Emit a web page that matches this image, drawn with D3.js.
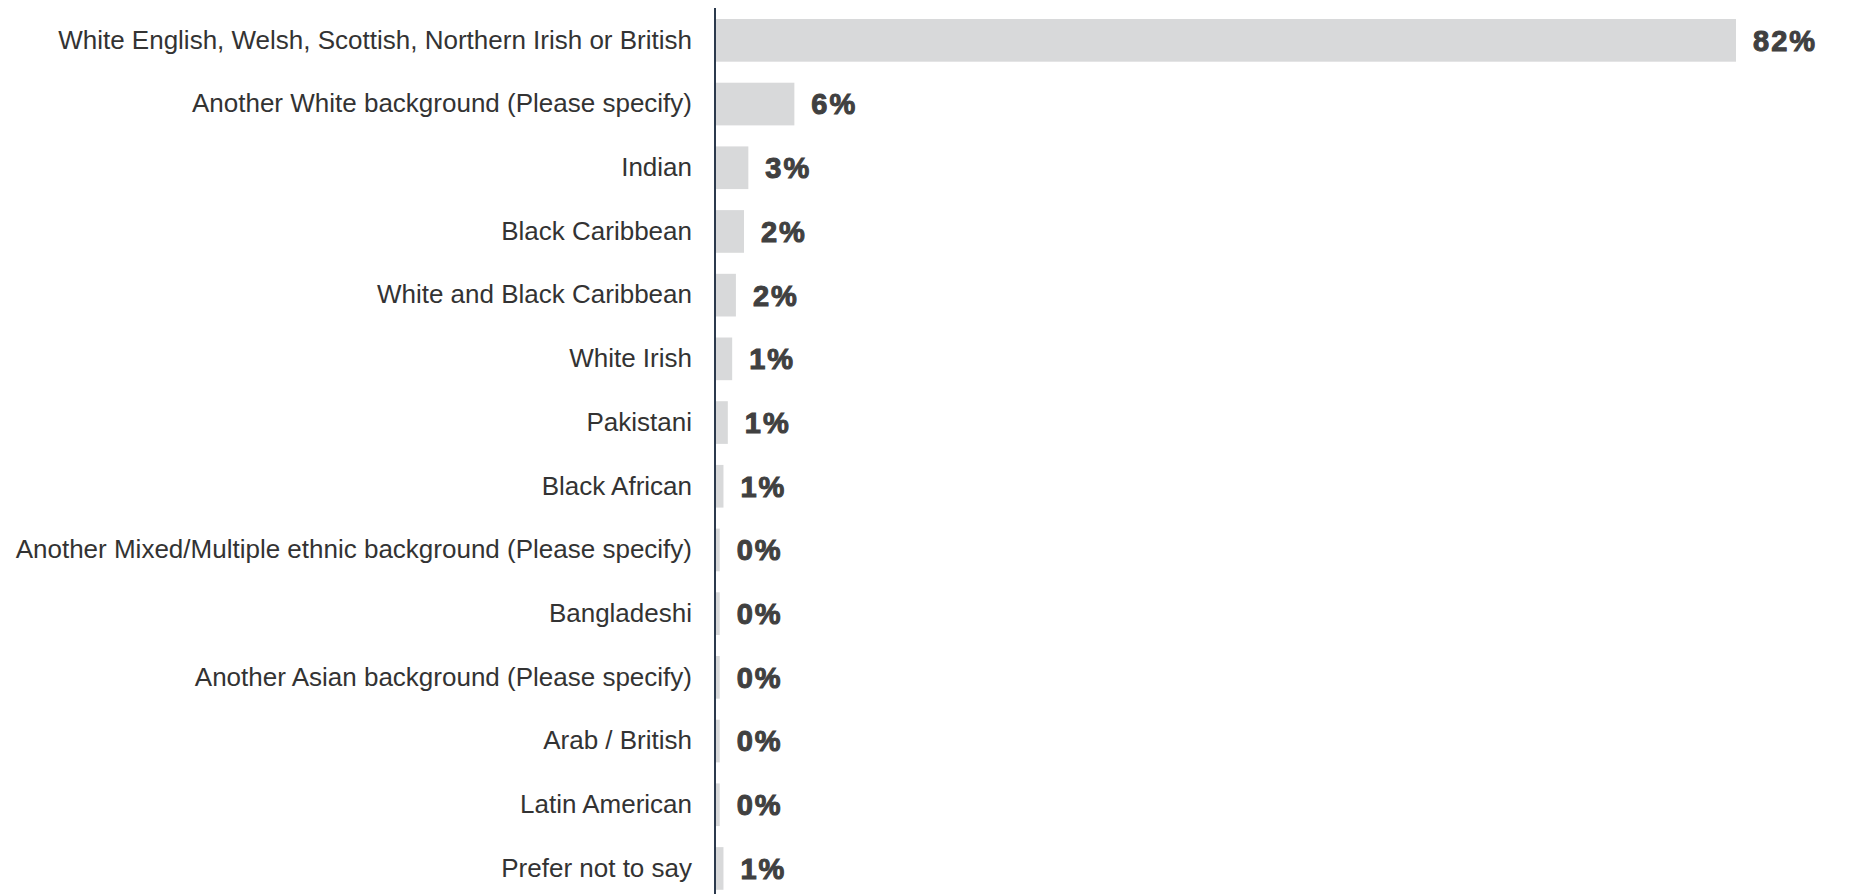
<!DOCTYPE html>
<html>
<head>
<meta charset="utf-8">
<script src="https://cdn.jsdelivr.net/npm/d3@7"></script>
<style>
  body { margin: 0; background: #fff; }
  .catLabel { font-family: "Liberation Sans", Arial, sans-serif; fill: #333; }
  .valLabel { font-family: "Liberation Sans", Arial, sans-serif; font-weight: bold; fill: #404040; stroke: #404040; }
</style>
</head>
<body>
<div id="chart"></div>
<script>
var categories = [
  "White English, Welsh, Scottish, Northern Irish or British",
  "Another White background (Please specify)",
  "Indian",
  "Black Caribbean",
  "White and Black Caribbean",
  "White Irish",
  "Pakistani",
  "Black African",
  "Another Mixed/Multiple ethnic background (Please specify)",
  "Bangladeshi",
  "Another Asian background (Please specify)",
  "Arab / British",
  "Latin American",
  "Prefer not to say"
];
var values = [82, 6.3, 2.6, 2.25, 1.6, 1.3, 0.95, 0.6, 0.3, 0.3, 0.3, 0.3, 0.3, 0.6];
var valueLabels = ["82%", "6%", "3%", "2%", "2%", "1%", "1%", "1%", "0%", "0%", "0%", "0%", "0%", "1%"];

var svgWidth = 1854;
var svgHeight = 894;
var axisX = 715;

var svg = d3.select("#chart").append("svg").attr("width", svgWidth).attr("height", svgHeight);

var yScale = d3.scaleBand().domain(categories).range([8.5, 900.3]).paddingInner(0.33).paddingOuter(0.165);
var xScale = d3.scaleLinear().domain([0, 82]).range([axisX + 1, 1736]);

// bars
svg.selectAll(".bar").data(values).enter().append("rect").attr("class", "bar")
  .attr("x", xScale(0))
  .attr("y", (d, i) => yScale(categories[i]))
  .attr("width", d => xScale(d) - xScale(0))
  .attr("height", yScale.bandwidth())
  .attr("fill", "#d8d9da");

// category labels on the left
var leftAxis = d3.axisLeft(yScale).tickSize(0).tickPadding(23);
var axisG = svg.append("g").attr("transform", `translate(${axisX}, 0)`).call(leftAxis);
axisG.select(".domain").remove();
axisG.selectAll("text").attr("class", "catLabel").style("font-size", "26px").attr("fill", null);

svg.append("line").attr("x1", axisX).attr("x2", axisX).attr("y1", 8).attr("y2", svgHeight)
  .attr("stroke", "#2c3a4d").attr("stroke-width", 2);

// value labels
svg.selectAll(".valLabel").data(values).enter().append("text").attr("class", "valLabel")
  .attr("x", d => xScale(d) + 17)
  .attr("y", (d, i) => yScale(categories[i]) + yScale.bandwidth() / 2)
  .attr("dy", "0.36em")
  .style("font-size", "29px")
  .style("stroke-width", "1px")
  .style("letter-spacing", "2px")
  .text((d, i) => valueLabels[i]);
</script>
</body>
</html>
